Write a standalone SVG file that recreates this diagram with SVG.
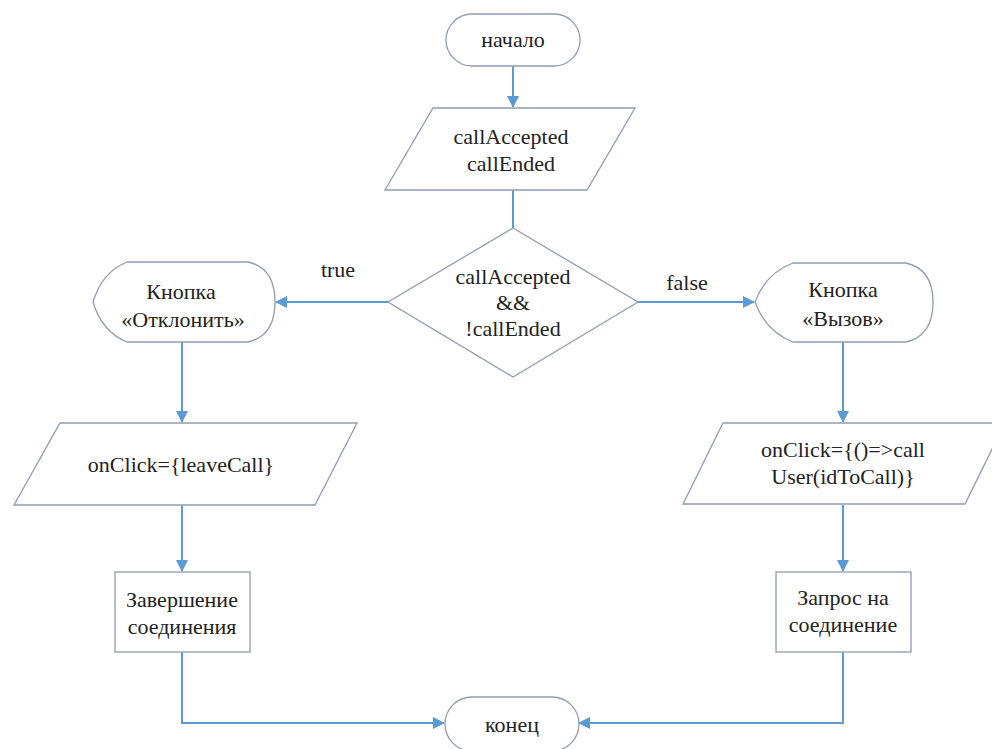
<svg xmlns="http://www.w3.org/2000/svg" width="992" height="749" viewBox="0 0 992 749" font-family="Liberation Serif, Times New Roman, Noto Serif, DejaVu Serif, serif">
<defs>
<style>
.s{fill:#fff;stroke:#8e9db0;stroke-width:1.3}
.c{fill:none;stroke:#5b9bd5;stroke-width:2}
.t{font-size:22px;fill:#222;text-anchor:middle}
</style>
<marker id="ah" markerWidth="12" markerHeight="12" refX="11" refY="6" orient="auto" markerUnits="userSpaceOnUse">
<path d="M0,0 L12,6 L0,12 Z" fill="#5b9bd5"/>
</marker>
</defs>
<rect width="992" height="749" fill="#fff"/>
<g id="connectors">
<line class="c" x1="513" y1="66" x2="513" y2="107" marker-end="url(#ah)"/>
<line class="c" x1="513" y1="190" x2="513" y2="228"/>
<line class="c" x1="388" y1="302" x2="276" y2="302" marker-end="url(#ah)"/>
<line class="c" x1="638" y1="302" x2="754" y2="302" marker-end="url(#ah)"/>
<line class="c" x1="182" y1="342" x2="182" y2="422" marker-end="url(#ah)"/>
<line class="c" x1="843" y1="342" x2="843" y2="422" marker-end="url(#ah)"/>
<line class="c" x1="182" y1="505" x2="182" y2="571" marker-end="url(#ah)"/>
<line class="c" x1="843" y1="505" x2="843" y2="571" marker-end="url(#ah)"/>
<polyline class="c" points="182,652 182,723 444,723" marker-end="url(#ah)"/>
<polyline class="c" points="843,652 843,723 579,723" marker-end="url(#ah)"/>
<text class="t" x="338" y="277">true</text>
<text class="t" x="687" y="290">false</text>
</g>
<g id="start">
<rect class="s" x="446" y="14" width="134" height="52" rx="26"/>
<text class="t" x="513" y="47">начало</text>
</g>
<g id="input1">
<polygon class="s" points="433,108 635,108 587,190 385,190"/>
<text class="t" x="511" y="144">callAccepted</text>
<text class="t" x="511" y="171">callEnded</text>
</g>
<g id="decision">
<polygon class="s" points="513,228 638,302 513,377 388,302"/>
<text class="t" x="513" y="284">callAccepted</text>
<text class="t" x="513" y="310">&amp;&amp;</text>
<text class="t" x="513" y="336">!callEnded</text>
</g>
<g id="btnReject">
<path class="s" d="M127,262 L248,262 Q275,268 275,302 Q275,336 248,342 L127,342 Q102,332 93,302 Q102,272 127,262 Z"/>
<text class="t" x="181" y="299">Кнопка</text>
<text class="t" x="183" y="327">«Отклонить»</text>
</g>
<g id="btnCall">
<path class="s" d="M793,263 L906,263 Q933,269 933,302 Q933,336 906,342 L793,342 Q766,332 755,302 Q766,273 793,263 Z"/>
<text class="t" x="843" y="297">Кнопка</text>
<text class="t" x="843" y="326">«Вызов»</text>
</g>
<g id="inputLeave">
<polygon class="s" points="60,423 357,423 315,505 14,505"/>
<text class="t" x="181" y="472">onClick={leaveCall}</text>
</g>
<g id="inputCall">
<polygon class="s" points="723,423 1005,423 965,504 683,504"/>
<text class="t" x="843" y="457">onClick={()=&gt;call</text>
<text class="t" x="843" y="484">User(idToCall)}</text>
</g>
<g id="endConn">
<rect class="s" x="115" y="572" width="135" height="80"/>
<text class="t" x="182" y="607">Завершение</text>
<text class="t" x="182" y="634">соединения</text>
</g>
<g id="requestConn">
<rect class="s" x="776" y="572" width="135" height="80"/>
<text class="t" x="843" y="605">Запрос на</text>
<text class="t" x="843" y="632">соединение</text>
</g>
<g id="end">
<rect class="s" x="445" y="697" width="134" height="54" rx="27"/>
<text class="t" x="512" y="732">конец</text>
</g>
</svg>
